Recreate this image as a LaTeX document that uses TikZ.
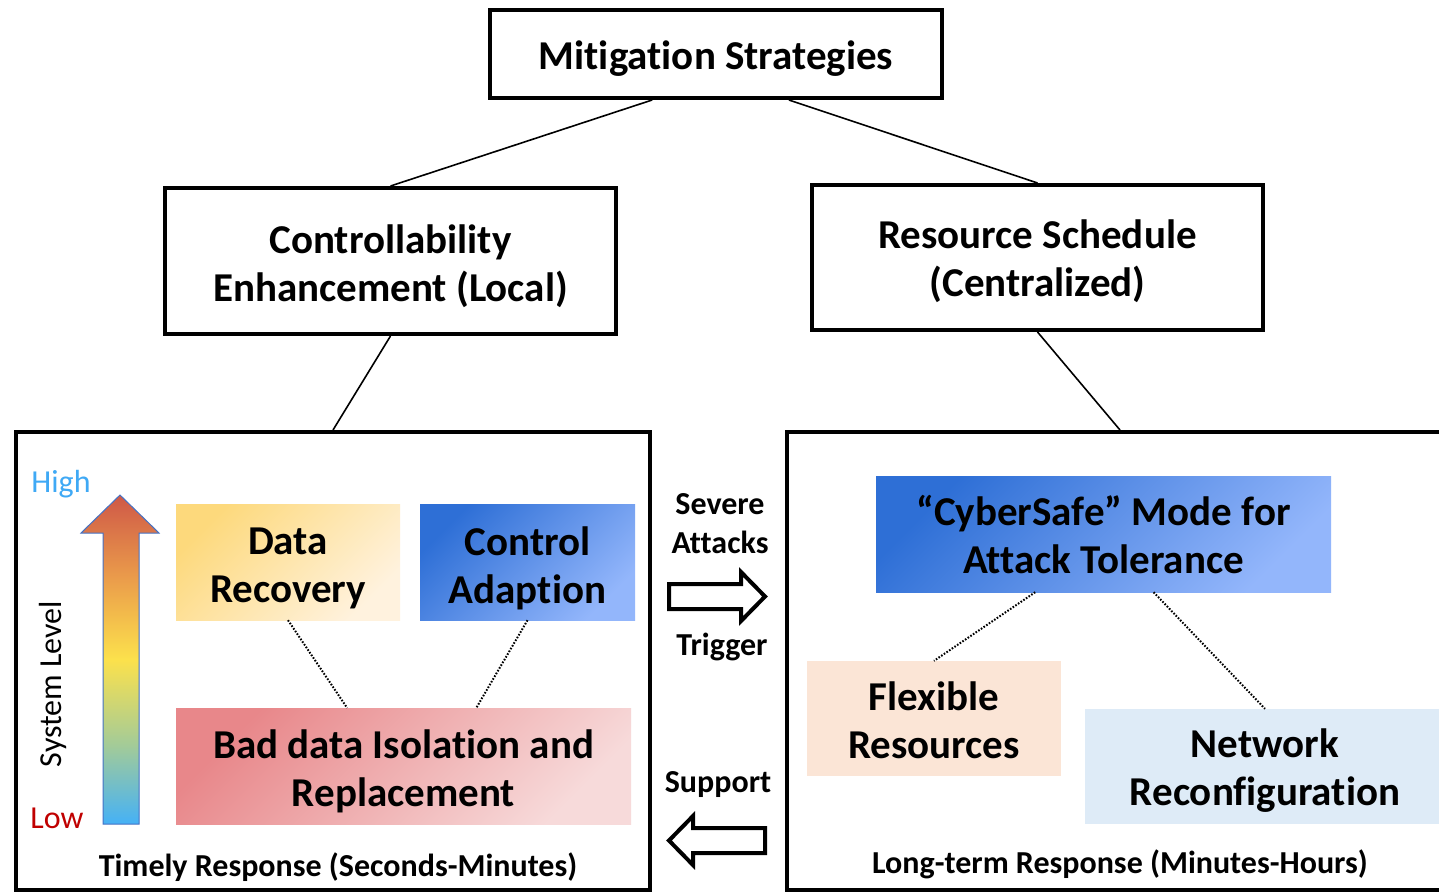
\documentclass[tikz,border=0pt]{standalone}
\usepackage{fontspec}
\setmainfont{Carlito}[Ligatures=NoCommon]
\usetikzlibrary{calc}
\definecolor{hiblue}{HTML}{3FA9F5}
\definecolor{lored}{HTML}{C00000}
\definecolor{dryel}{HTML}{FDD97C}
\definecolor{drlight}{HTML}{FFF2DE}
\definecolor{cadark}{HTML}{2E6FD6}
\definecolor{calight}{HTML}{93B6FB}
\definecolor{bdred}{HTML}{E8878A}
\definecolor{bdlight}{HTML}{F7DADA}
\definecolor{flexfill}{HTML}{FBE5D6}
\definecolor{netfill}{HTML}{DEEBF7}
\definecolor{arrowedge}{HTML}{4472C4}
\definecolor{lvA}{HTML}{45B1F6}
\definecolor{lvB}{HTML}{A3CB98}
\definecolor{lvC}{HTML}{FCE14C}
\definecolor{lvD}{HTML}{EB9E4B}
\definecolor{lvE}{HTML}{CF5847}
\pgfdeclareverticalshading{levelgrad}{100bp}{%
  color(0bp)=(lvA); color(25bp)=(lvA);
  color(37bp)=(lvB); color(50bp)=(lvC);
  color(62bp)=(lvD); color(75bp)=(lvE);
  color(100bp)=(lvE)}
\tikzset{
  big/.style={font=\bfseries\fontsize{41}{48}\selectfont, align=center, inner sep=0pt},
  small/.style={font=\bfseries\fontsize{32}{39}\selectfont, align=center, inner sep=0pt},
  plain/.style={font=\fontsize{32}{38}\selectfont, inner sep=0pt},
  topbox/.style={draw, line width=4pt, inner sep=0pt},
  panel/.style={draw, line width=4pt, inner sep=0pt},
  fillbox/.style={inner sep=0pt},
  link/.style={line width=1.6pt},
  dotlink/.style={line width=2pt, dash pattern=on 1.6pt off 1.6pt},
  blockarrow/.style={draw, line width=4pt, fill=white, miter limit=10}
}
\begin{document}
\begin{tikzpicture}[x=1pt,y=-1pt]
\useasboundingbox[fill=white] (0,0) rectangle (1439,894);

% hierarchy boxes
\node[topbox, minimum width=452pt, minimum height=88pt] (mit) at (716,54) {};
\node[topbox, minimum width=451pt, minimum height=146pt] (ctrl) at (390.5,261) {};
\node[topbox, minimum width=451pt, minimum height=145pt] (res) at (1037.5,257.5) {};
\node[big] (mitT) at ($(mit.center)+(0,5)$) {Mitigation Strategies};
\node[big] (ctrlT) at ($(ctrl.center)+(0,5)$) {Controllability\\Enhancement (Local)};
\node[big] (resT) at ($(res.center)+(0,3.5)$) {Resource Schedule\\(Centralized)};

% two response panels
\node[panel, minimum width=634pt, minimum height=458pt] (lp) at (333,661) {};
\node[panel, minimum width=666pt, minimum height=458pt] (rp) at (1120,661) {};

\draw[link] ($(mit.south west)!0.36!(mit.south east)$) -- (ctrl.north);
\draw[link] ($(mit.south west)!0.66!(mit.south east)$) -- (res.north);
\draw[link] (ctrl.south) -- (lp.north);
\draw[link] (res.south) -- (rp.north);

% local measures
\node[fillbox, minimum width=224pt, minimum height=116pt, top color=dryel, bottom color=drlight, shading angle=45] (dr) at (288,562) {};
\node[fillbox, minimum width=215pt, minimum height=116pt, top color=cadark, bottom color=calight, shading angle=45] (ca) at (527.5,562) {};
\node[fillbox, minimum width=455pt, minimum height=116pt, top color=bdred, bottom color=bdlight, shading angle=45] (bd) at (403.5,766) {};
\node[big] (drT) at ($(dr.center)+(0,6)$) {Data\\Recovery};
\node[big] (caT) at ($(ca.center)+(0,6)$) {Control\\Adaption};
\node[big] (bdT) at ($(bd.center)+(0,5)$) {Bad data Isolation and\\Replacement};
\draw[dotlink] (dr.south) -- ($(bd.north west)!0.376!(bd.north east)$);
\draw[dotlink] (ca.south) -- ($(bd.north west)!0.66!(bd.north east)$);

% system level arrow
\path[shading=levelgrad, draw=arrowedge, line width=1pt]
  (103,824) -- (103,533) -- (81,533) -- (120,495) -- (159,533) -- (139,533) -- (139,824) -- cycle;
\node[plain, text=hiblue] (hi) at (61,484) {High};
\node[plain, text=lored] (lo) at (57,818) {Low};
\node[plain, rotate=90] (sl) at (53,684) {System Level};
\node[small] (tr) at (338,867) {Timely Response (Seconds-Minutes)};

% centralized measures
\node[fillbox, minimum width=455pt, minimum height=116pt, top color=cadark, bottom color=calight, shading angle=45] (cs) at (1103.5,534) {};
\node[fillbox, minimum width=254pt, minimum height=115pt, fill=flexfill] (fr) at (934,718.5) {};
\node[fillbox, minimum width=360pt, minimum height=115pt, fill=netfill] (nr) at (1265,766.5) {};
\node[big] (csT) at ($(cs.center)+(0,0.5)$) {“CyberSafe” Mode for\\Attack Tolerance};
\node[big] (frT) at ($(fr.center)+(0,1.5)$) {Flexible\\Resources};
\node[big] (nrT) at ($(nr.center)+(0,4.5)$) {Network\\Reconfiguration};
\draw[dotlink] ($(cs.south west)!0.35!(cs.south east)$) -- (fr.north);
\draw[dotlink] ($(cs.south west)!0.61!(cs.south east)$) -- (nr.north);
\node[small] (lt) at (1120,864) {Long-term Response (Minutes-Hours)};

% interaction between the panels
\node[small] (sev) at (720,524) {Severe\\Attacks};
\node[small] (trig) at (722,647) {Trigger};
\node[small] (sup) at (718,785) {Support};
\path[blockarrow] (669,584) -- (741,584) -- (741,572) -- (765,596.5) -- (741,621) -- (741,609) -- (669,609) -- cycle;
\path[blockarrow] (765,828) -- (693,828) -- (693,816) -- (669,840.5) -- (693,865) -- (693,853) -- (765,853) -- cycle;
\end{tikzpicture}
\end{document}
